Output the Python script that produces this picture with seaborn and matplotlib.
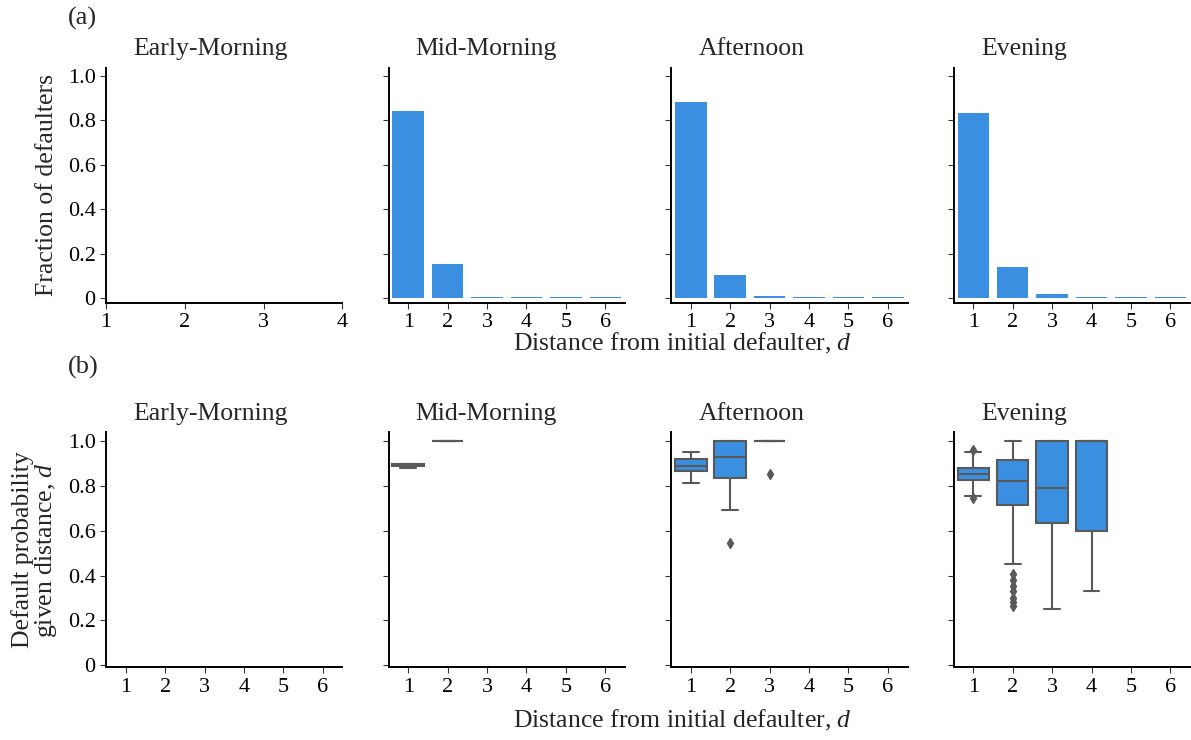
import numpy as np
import pandas as pd
import seaborn as sns
from matplotlib import pyplot as plt

periods = ["Early-Morning", "Mid-Morning", "Afternoon", "Evening"]
distances = [1, 2, 3, 4, 5, 6]

# (a) fraction of defaulters found at each distance from the initial defaulter
frac_mid = [0.843, 0.155, 0.006, 0.005, 0.005, 0.005]
frac_aft = [0.883, 0.106, 0.009, 0.005, 0.005, 0.005]
frac_eve = [0.834, 0.142, 0.021, 0.005, 0.005, 0.005]

# (b) default probability given distance, observations per distance
mid_d1 = [0.880, 0.888, 0.893, 0.900, 0.900]
mid_d2 = [1.0, 1.0, 1.0]
aft_d1 = [0.815, 0.850, 0.867, 0.880, 0.891, 0.900, 0.919, 0.935, 0.952]
aft_d2 = [0.546, 0.692, 0.834, 0.880, 0.928, 0.960, 1.0, 1.0, 1.0]
aft_d3 = [0.852, 1.0, 1.0, 1.0, 1.0]
eve_d1 = [0.745, 0.755, 0.828, 0.840, 0.853, 0.865, 0.879, 0.950, 0.960]
eve_d2 = [0.265, 0.280, 0.300, 0.330, 0.355, 0.380, 0.405, 0.450, 0.600,
          0.715, 0.730, 0.750, 0.760, 0.770, 0.780, 0.790, 0.800, 0.810,
          0.822, 0.830, 0.840, 0.850, 0.860, 0.870, 0.880, 0.890, 0.900,
          0.918, 0.930, 0.940, 0.950, 0.960, 0.970, 0.980, 1.0, 1.0, 1.0]
eve_d3 = [0.250, 0.450, 0.634, 0.700, 0.791, 0.900, 1.0, 1.0, 1.0]
eve_d4 = [0.333, 0.600, 1.0, 1.0, 1.0]

yticks = [0, 0.2, 0.4, 0.6, 0.8, 1.0]
ytick_labels = ["0", "0.2", "0.4", "0.6", "0.8", "1.0"]

BLUE = "#3a8fe1"
GRAY = "#595959"


def box_frame(samples):
    rows = []
    for d, vals in samples.items():
        for v in vals:
            rows.append((d, v))
    return pd.DataFrame(rows, columns=["d", "prob"])


sns.set_style("ticks")
plt.rcParams["font.family"] = ["Liberation Serif", "DejaVu Serif"]
plt.rcParams["mathtext.fontset"] = "custom"
plt.rcParams["mathtext.rm"] = "Liberation Serif"
plt.rcParams["mathtext.it"] = "Liberation Serif:italic"
plt.rcParams["font.size"] = 15
plt.rcParams["axes.linewidth"] = 1.4
plt.rcParams["axes.edgecolor"] = "black"
plt.rcParams["xtick.color"] = "#333333"
plt.rcParams["ytick.color"] = "#333333"
plt.rcParams["xtick.labelcolor"] = "black"
plt.rcParams["ytick.labelcolor"] = "black"
plt.rcParams["xtick.major.size"] = 4
plt.rcParams["ytick.major.size"] = 4
plt.rcParams["xtick.labelsize"] = 16
plt.rcParams["ytick.labelsize"] = 16

fig, axes = plt.subplots(2, 4, figsize=(11.91, 7.40), dpi=100, sharey="row")
fig.subplots_adjust(left=0.089, right=0.9992, bottom=0.0982, top=0.9085,
                    wspace=0.195, hspace=0.55)

# top row: bar charts
axes[0, 0].set_xlim(1, 4)
axes[0, 0].set_xticks([1, 2, 3, 4])
for ax, frac in zip(axes[0, 1:], [frac_mid, frac_aft, frac_eve]):
    df = pd.DataFrame({"d": distances, "fraction": frac})
    sns.barplot(data=df, x="d", y="fraction", order=distances, color=BLUE,
                saturation=1, width=0.8, linewidth=0, ax=ax)

# bottom row: box plots
box_data = [None,
            {1: mid_d1, 2: mid_d2},
            {1: aft_d1, 2: aft_d2, 3: aft_d3},
            {1: eve_d1, 2: eve_d2, 3: eve_d3, 4: eve_d4}]
flier = dict(marker="d", markerfacecolor=GRAY, markeredgecolor=GRAY, markersize=5)
for ax, samples in zip(axes[1], box_data):
    if samples is None:
        ax.set_xticks(range(len(distances)))
        ax.set_xticklabels([str(d) for d in distances])
    else:
        sns.boxplot(data=box_frame(samples), x="d", y="prob", order=distances,
                    color=BLUE, saturation=1, linecolor=GRAY, linewidth=1.5,
                    width=0.8, flierprops=flier, ax=ax)
    ax.set_xlim(-0.5, 5.5)

for row, ylim in zip(axes, [(-0.02, 1.037), (-0.01, 1.04)]):
    for ax, period in zip(row, periods):
        ax.set_ylim(*ylim)
        ax.set_yticks(yticks)
        ax.set_xlabel("")
        ax.set_ylabel("")
        ax.set_title(period, loc="left", x=0.115, pad=9, fontsize=18.5)
    row[0].set_yticklabels(ytick_labels)

sns.despine(fig=fig)

axes[0, 0].set_ylabel("Fraction of defaulters", fontsize=18.5)
axes[0, 0].yaxis.set_label_coords(-0.205, 0.5)
axes[1, 0].set_ylabel("Default probability\ngiven distance, $d$", fontsize=18.5,
                      linespacing=0.95)
axes[1, 0].yaxis.set_label_coords(-0.198, 0.5)

fig.text(0.431, 0.536, "Distance from initial defaulter, $d$", ha="left",
         va="center", fontsize=18.5)
fig.text(0.431, 0.027, "Distance from initial defaulter, $d$", ha="left",
         va="center", fontsize=18.5)
fig.text(0.057, 0.975, "(a)", ha="left", va="center", fontsize=19)
fig.text(0.057, 0.503, "(b)", ha="left", va="center", fontsize=19)

fig.savefig("out.png", dpi=100)
